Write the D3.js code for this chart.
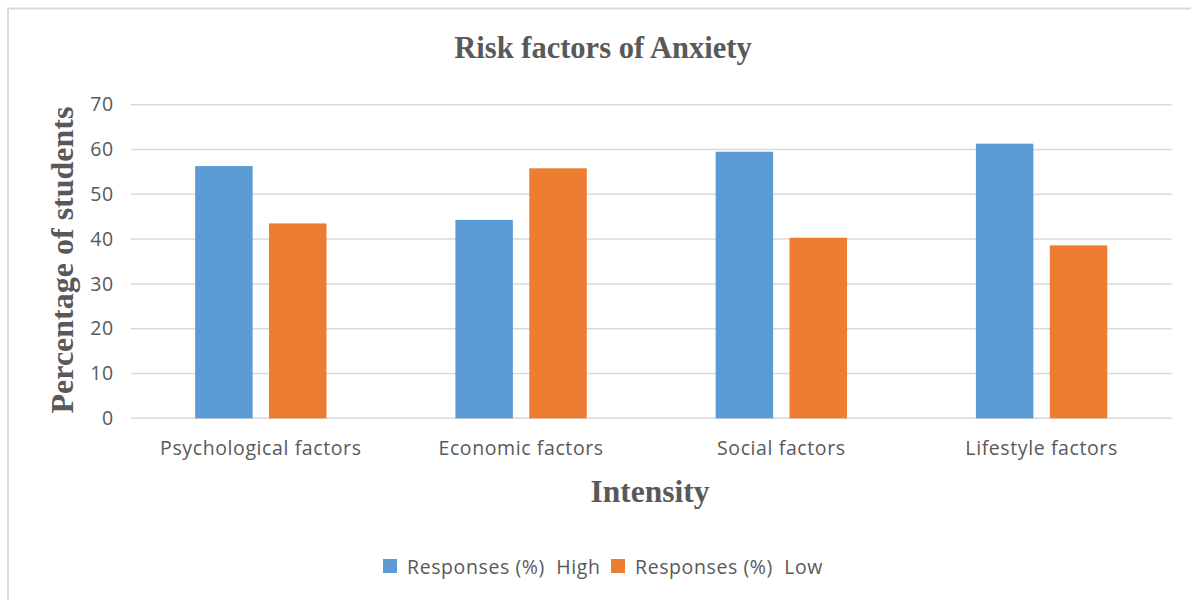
<!DOCTYPE html>
<html>
<head>
<meta charset="utf-8">
<script src="https://cdn.jsdelivr.net/npm/d3@7"></script>
<style>
  body { margin: 0; background: #fff; }
  .tick text { fill: #595959; }
</style>
</head>
<body>
<div class="svg-container"></div>
<script>
const categories = ['Psychological factors', 'Economic factors', 'Social factors', 'Lifestyle factors']
const series = ['Responses (%)  High', 'Responses (%)  Low']
const highValues = [56.3, 44.3, 59.5, 61.3]
const lowValues = [43.5, 55.8, 40.3, 38.6]
const yTicks = [0, 10, 20, 30, 40, 50, 60, 70]
const colors = ['#5b9bd5', '#ed7d31']

const width = 1191, height = 600
const margin = {top: 104.7, right: 19.3, bottom: 181.7, left: 130.7}
const sans = '"Open Sans", Lato, sans-serif'
const serif = '"Liberation Serif", "Times New Roman", serif'

const svg = d3.select('.svg-container').append('svg')
  .attr('width', width)
  .attr('height', height)

// chart frame (only left and top edges show in the crop)
svg.append('path')
  .attr('d', `M8,${height} V8.5 H${width}`)
  .attr('fill', 'none')
  .attr('stroke', '#d9d9d9')
  .attr('stroke-width', 2)

const rows = categories.map((c, i) => ({cat: c, vals: [highValues[i], lowValues[i]]}))

const x0 = d3.scaleBand()
  .domain(categories)
  .range([margin.left, width - margin.right])

const x1 = d3.scaleBand()
  .domain(series)
  .range([0, x0.bandwidth()])
  .paddingInner(0.222)
  .paddingOuter(0.872)

const y = d3.scaleLinear()
  .domain([0, 70])
  .range([height - margin.bottom, margin.top])

// gridlines
svg.append('g')
  .selectAll('line')
  .data(yTicks)
  .enter()
  .append('line')
  .attr('x1', margin.left)
  .attr('x2', width - margin.right)
  .attr('y1', d => y(d))
  .attr('y2', d => y(d))
  .attr('stroke', '#d9d9d9')
  .attr('stroke-width', 1.5)

// y axis labels
const yAxis = svg.append('g')
  .attr('transform', `translate(${margin.left - 17},0)`)
  .call(d3.axisLeft(y).tickValues(yTicks).tickSize(0).tickPadding(0))
yAxis.select('.domain').remove()
yAxis.selectAll('text')
  .style('font-family', sans)
  .style('font-size', '19.5px')
  .style('letter-spacing', '0.6px')

// x axis labels
const xAxis = svg.append('g')
  .attr('transform', `translate(0,${y(0)})`)
  .call(d3.axisBottom(x0).tickSize(0).tickPadding(23))
xAxis.select('.domain').remove()
xAxis.selectAll('text')
  .style('font-family', sans)
  .style('font-size', '19.5px')
  .style('letter-spacing', '0.6px')

// bars
const groups = svg.append('g')
  .selectAll('g')
  .data(rows)
  .enter()
  .append('g')
  .attr('transform', d => `translate(${x0(d.cat)},0)`)

groups.selectAll('rect')
  .data(d => d.vals.map((v, i) => ({key: series[i], value: v, i: i})))
  .enter()
  .append('rect')
  .attr('x', d => x1(d.key))
  .attr('width', x1.bandwidth())
  .attr('y', d => y(d.value))
  .attr('height', d => y(0) - y(d.value))
  .attr('fill', d => colors[d.i])

// titles
svg.append('text')
  .attr('x', 603)
  .attr('y', 58)
  .attr('text-anchor', 'middle')
  .style('font-family', serif)
  .style('font-weight', 'bold')
  .style('font-size', '30.5px')
  .style('fill', '#595959')
  .text('Risk factors of Anxiety')

svg.append('text')
  .attr('transform', 'translate(62,260) rotate(-90)')
  .attr('text-anchor', 'middle')
  .attr('dominant-baseline', 'central')
  .style('font-family', serif)
  .style('font-weight', 'bold')
  .style('font-size', '32px')
  .style('fill', '#595959')
  .text('Percentage of students')

svg.append('text')
  .attr('x', 650)
  .attr('y', 502)
  .attr('text-anchor', 'middle')
  .style('font-family', serif)
  .style('font-weight', 'bold')
  .style('font-size', '31.5px')
  .style('fill', '#595959')
  .text('Intensity')

// legend
const legendX = [383, 611]
const legend = svg.append('g')
  .selectAll('g')
  .data(series)
  .enter()
  .append('g')
  .attr('transform', (d, i) => `translate(${legendX[i]},559)`)

legend.append('rect')
  .attr('width', 14)
  .attr('height', 14)
  .attr('fill', (d, i) => colors[i])

legend.append('text')
  .attr('x', 24)
  .attr('y', 7)
  .attr('dominant-baseline', 'central')
  .style('font-family', sans)
  .style('font-size', '19.5px')
  .style('letter-spacing', '0.6px')
  .style('fill', '#595959')
  .style('white-space', 'pre')
  .text(d => d)
</script>
</body>
</html>
